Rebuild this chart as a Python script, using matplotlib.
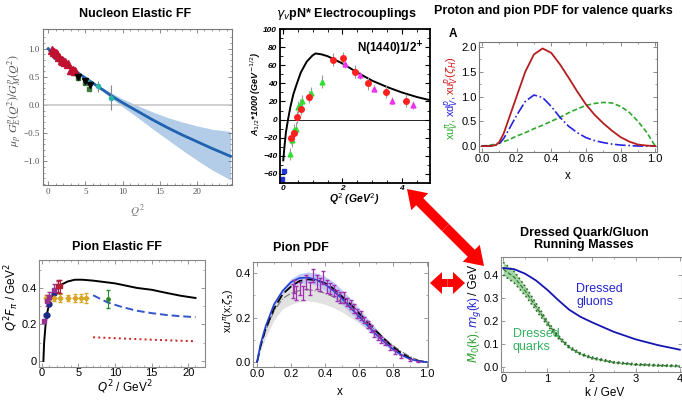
import numpy as np
import matplotlib.pyplot as plt
from matplotlib.patches import FancyArrow

plt.rcParams['font.family'] = ['Liberation Sans', 'DejaVu Sans']
plt.rcParams['font.size'] = 8

# ---- data ----

# nucleon elastic FF ratio
nuc_q2 = [0, 1, 2, 3, 4, 5, 6, 7, 8, 9, 10, 12, 14, 16, 18, 20, 22, 24.5]
nuc_ratio = [1.0, 0.88, 0.77, 0.67, 0.57, 0.48, 0.39, 0.30, 0.21, 0.12, 0.04,
             -0.11, -0.26, -0.40, -0.53, -0.65, -0.77, -0.91]
nuc_loop_q2 = [0, 0.4, 0.8, 1.2, 1.6, 2.0, 2.4]
nuc_loop = [1.0, 0.9, 0.83, 0.79, 0.76, 0.74, 0.73]
nuc_band_q2 = [0, 2, 4, 6, 8, 10, 12, 14, 16, 18, 20, 22, 24.5]
nuc_band_hi = [1.0, 0.78, 0.58, 0.41, 0.25, 0.11, -0.01, -0.12, -0.22, -0.30, -0.37, -0.43, -0.47]
nuc_band_lo = [1.0, 0.76, 0.56, 0.37, 0.17, -0.03, -0.22, -0.42, -0.61, -0.80, -0.98, -1.15, -1.33]
nuc_red_q2 = [0.5, 0.8, 1.0, 1.2, 1.5, 1.8, 2.0, 2.3, 2.6, 3.0, 3.3, 3.6]
nuc_red = [0.97, 0.95, 0.92, 0.90, 0.85, 0.80, 0.78, 0.76, 0.72, 0.63, 0.62, 0.60]
nuc_grn_q2 = [3.5, 4.0, 5.0, 5.5]
nuc_grn = [0.56, 0.48, 0.40, 0.28]
nuc_blk_q2 = [4.0, 5.0, 5.6]
nuc_blk = [0.50, 0.43, 0.35]
nuc_cyan_q2 = [5.2, 6.7, 8.5]
nuc_cyan = [0.42, 0.33, 0.13]
nuc_cyan_err = [0.05, 0.10, 0.22]

# Roper electrocouplings
rop_q2 = [0.01, 0.05, 0.1, 0.17, 0.25, 0.35, 0.45, 0.6, 0.8, 1.0, 1.1, 1.3, 1.5,
          1.75, 2.0, 2.5, 3.0, 3.5, 4.0, 4.5, 5.0]
rop_a12 = [-45, -30, -14, 0, 14, 28, 38, 52, 64, 71, 73, 72, 70, 66, 62, 52, 43,
           36, 30, 25, 21]
rop_red_q2 = [0.28, 0.37, 0.48, 0.62, 0.87, 1.69, 2.03, 2.42, 2.87, 3.46, 4.14]
rop_red = [-20, -15, 3, 12, 25, 66, 68, 53, 40, 31, 21]
rop_grn_q2 = [0.25, 0.32, 0.37, 0.43, 0.51, 0.56, 0.64, 0.94, 1.3]
rop_grn = [-38, -23, -12, -10, 14, 16, 20, 29, 42]
rop_mag_q2 = [2.08, 2.59, 3.06, 3.66, 4.37]
rop_mag = [61, 49, 34, 21, 16]
rop_blu_q2 = [0.03, -0.03]
rop_blu = [-57, -66]

# proton / pion valence PDFs
pdf_x = [0, 0.05, 0.08, 0.1, 0.125, 0.15, 0.175, 0.2, 0.25, 0.3, 0.35, 0.4, 0.45,
         0.5, 0.55, 0.6, 0.65, 0.7, 0.75, 0.8, 0.85, 0.9, 0.95, 1.0]
pdf_uv_p = [0, 0.0, 0.02, 0.08, 0.25, 0.5, 0.75, 1.0, 1.5, 1.85, 1.97, 1.88, 1.65,
            1.38, 1.1, 0.84, 0.63, 0.46, 0.31, 0.18, 0.09, 0.03, 0.01, 0]
pdf_dv_p = [0, 0.0, 0.02, 0.05, 0.15, 0.3, 0.46, 0.62, 0.9, 1.03, 0.98, 0.8, 0.58,
            0.4, 0.27, 0.17, 0.11, 0.07, 0.04, 0.02, 0.01, 0.0, 0.0, 0]
pdf_uv_pi = [0, 0.02, 0.04, 0.06, 0.09, 0.12, 0.16, 0.2, 0.27, 0.35, 0.42, 0.5,
             0.58, 0.67, 0.75, 0.82, 0.86, 0.88, 0.87, 0.8, 0.68, 0.5, 0.28, 0.0]

# pion elastic FF
pff_q2 = [0.2, 0.3, 0.5, 0.8, 1.2, 1.7, 2.5, 3.5, 4.5, 5.5, 7, 10, 13, 15, 17, 19, 21]
pff = [0.0, 0.1, 0.2, 0.28, 0.34, 0.38, 0.415, 0.435, 0.445, 0.445, 0.44, 0.425,
       0.40, 0.39, 0.373, 0.357, 0.345]
pff_dash_q2 = [7, 9, 11, 13, 15, 17, 19, 21]
pff_dash = [0.36, 0.32, 0.295, 0.275, 0.262, 0.252, 0.245, 0.24]
pff_dot_q2 = [7, 10, 14, 18, 21]
pff_dot = [0.13, 0.125, 0.118, 0.112, 0.108]
pff_gold_q2 = [0.6, 1.0, 1.6, 2.45, 3.5, 4.5, 5.3, 6.0]
pff_gold = [0.345, 0.345, 0.345, 0.345, 0.345, 0.345, 0.345, 0.345]
pff_gold_err = [0.015, 0.015, 0.015, 0.02, 0.015, 0.02, 0.02, 0.025]
pff_purp_q2 = [0.35, 0.7, 1.0, 1.6, 2.2]
pff_purp = [0.22, 0.33, 0.35, 0.39, 0.41]
pff_purp_err = [0.01, 0.03, 0.03, 0.03, 0.03]
pff_navy_q2 = [0.6, 0.75, 1.0, 1.6]
pff_navy = [0.25, 0.25, 0.31, 0.37]
pff_dred_q2 = [2.25, 2.45]
pff_dred = [0.41, 0.41]
pff_grn_q2 = [9.0]
pff_grn = [0.34]

# pion PDF
ppdf_x = [0, 0.02, 0.05, 0.1, 0.15, 0.2, 0.25, 0.3, 0.35, 0.4, 0.45, 0.5, 0.55,
          0.6, 0.65, 0.7, 0.75, 0.8, 0.85, 0.9, 0.95, 1.0]
ppdf_blue = [0, 0.08, 0.16, 0.26, 0.32, 0.36, 0.378, 0.38, 0.37, 0.35, 0.32, 0.285,
             0.245, 0.205, 0.165, 0.125, 0.09, 0.058, 0.032, 0.014, 0.004, 0]
ppdf_dash = [0, 0.07, 0.15, 0.24, 0.305, 0.34, 0.365, 0.372, 0.368, 0.355, 0.33,
             0.295, 0.26, 0.22, 0.18, 0.14, 0.102, 0.068, 0.04, 0.018, 0.005, 0]
ppdf_gray = [0, 0.07, 0.14, 0.23, 0.285, 0.31, 0.322, 0.325, 0.32, 0.31, 0.293,
             0.27, 0.242, 0.21, 0.175, 0.14, 0.106, 0.075, 0.047, 0.025, 0.008, 0]
ppdf_gray_lo = [0, 0.05, 0.11, 0.19, 0.24, 0.26, 0.272, 0.275, 0.27, 0.26, 0.245,
                0.225, 0.2, 0.175, 0.148, 0.12, 0.092, 0.065, 0.042, 0.022, 0.007, 0]
ppdf_gray_hi = [0, 0.08, 0.16, 0.255, 0.315, 0.345, 0.36, 0.362, 0.357, 0.345, 0.322,
                0.29, 0.255, 0.215, 0.175, 0.135, 0.098, 0.065, 0.038, 0.017, 0.005, 0]
ppdf_blue_hi = [0, 0.08, 0.16, 0.262, 0.33, 0.375, 0.398, 0.405, 0.4, 0.385, 0.36,
                0.325, 0.285, 0.242, 0.197, 0.152, 0.11, 0.072, 0.04, 0.018, 0.005, 0]
ppdf_blue_lo = [0, 0.08, 0.155, 0.25, 0.305, 0.34, 0.355, 0.355, 0.345, 0.322, 0.292,
                0.258, 0.22, 0.182, 0.145, 0.108, 0.076, 0.048, 0.026, 0.011, 0.003, 0]
e615_x = [0.21, 0.22, 0.23, 0.25, 0.27, 0.29, 0.31, 0.33, 0.35, 0.37, 0.39, 0.41,
          0.43, 0.45, 0.47, 0.49, 0.51, 0.53, 0.55, 0.57, 0.59, 0.61, 0.63, 0.65,
          0.67, 0.69, 0.71, 0.73, 0.75, 0.78, 0.81, 0.85, 0.9, 0.95]
e615 = [0.32, 0.34, 0.31, 0.33, 0.31, 0.36, 0.33, 0.39, 0.36, 0.35, 0.38, 0.34,
        0.33, 0.32, 0.30, 0.29, 0.29, 0.27, 0.26, 0.24, 0.22, 0.21, 0.19, 0.17,
        0.15, 0.13, 0.11, 0.10, 0.085, 0.065, 0.045, 0.025, 0.01, 0.003]
e615_err = [0.03, 0.03, 0.03, 0.03, 0.03, 0.03, 0.03, 0.03, 0.03, 0.03, 0.03, 0.03,
            0.025, 0.025, 0.025, 0.025, 0.025, 0.02, 0.02, 0.02, 0.02, 0.02, 0.015,
            0.015, 0.015, 0.015, 0.012, 0.012, 0.01, 0.01, 0.008, 0.006, 0.004, 0.003]

# running masses
run_k = [0, 0.25, 0.5, 0.75, 1.0, 1.25, 1.5, 1.75, 2.0, 2.5, 3.0, 3.5, 4.0]
gluon_m = [0.43, 0.425, 0.405, 0.375, 0.335, 0.29, 0.248, 0.218, 0.195, 0.153,
           0.12, 0.095, 0.075]
quark_m = [0.425, 0.39, 0.33, 0.26, 0.19, 0.13, 0.085, 0.057, 0.04, 0.02, 0.011,
           0.007, 0.004]
quark_hi = [0.455, 0.415, 0.35, 0.275, 0.2, 0.137, 0.09, 0.061, 0.044, 0.023,
            0.014, 0.01, 0.007]
quark_lo = [0.4, 0.365, 0.31, 0.245, 0.18, 0.123, 0.08, 0.053, 0.036, 0.017,
            0.008, 0.004, 0.001]

W, H = 682, 401
fig = plt.figure(figsize=(W / 100, H / 100), dpi=100)


def box(l, t, r, b):
    # pixel box -> figure fraction rect
    return [l / W, 1 - b / H, (r - l) / W, (b - t) / H]


def ftext(px, py, s, **kw):
    return fig.text(px / W, 1 - py / H, s, **kw)


def stacked_label(px, py_mid, parts, size):
    # rotated label made of differently coloured pieces, listed bottom to top
    r = fig.canvas.get_renderer()
    texts = [ftext(px, 0, s, color=c, rotation=90, ha='center', va='bottom',
                   fontsize=size) for s, c in parts]
    hs = [t.get_window_extent(r).height for t in texts]
    y = py_mid + sum(hs) / 2
    for t, h in zip(texts, hs):
        t.set_position((px / W, 1 - y / H))
        y -= h


def frame(ax, col='#888888'):
    for s in ax.spines.values():
        s.set_color(col)
        s.set_linewidth(0.8)
    ax.tick_params(direction='in', top=True, right=True, length=3, width=0.6,
                   color=col, labelsize=8, pad=1.5)
    ax.tick_params(which='minor', direction='in', top=True, right=True,
                   length=1.5, width=0.5, color=col)


# ---- panel 1: nucleon elastic FF ----
ax1 = fig.add_axes(box(43, 29, 232, 185))
frame(ax1, '#777777')
ax1.fill_between(nuc_band_q2, nuc_band_lo, nuc_band_hi, color='#b3cde8', lw=0)
ax1.axhline(0, color='#c8c8c8', lw=1.2)
ax1.plot(nuc_q2, nuc_ratio, color='#1f62b0', lw=2)
ax1.plot(nuc_loop_q2, nuc_loop, color='#1f62b0', lw=1.5)
ax1.errorbar(nuc_cyan_q2, nuc_cyan, yerr=nuc_cyan_err, fmt='o', ms=3,
             color='#2bb5a8', ecolor='#888888', elinewidth=0.8)
ax1.plot(nuc_grn_q2, nuc_grn, 's', ms=3.5, color='#3e7a3a')
ax1.errorbar(nuc_blk_q2, nuc_blk, yerr=0.05, fmt='v', ms=4.5, color='black',
             ecolor='#666666', elinewidth=0.7)
ax1.plot(nuc_red_q2, nuc_red, '^', ms=5.5, color='#c01030')
ax1.set_xlim(-0.7, 24.7)
ax1.set_ylim(-1.42, 1.35)
ax1.set_xticks([0, 5, 10, 15, 20])
ax1.set_yticks([1.0, 0.5, 0.0, -0.5, -1.0])
ax1.set_xticks(np.arange(0, 25, 1), minor=True)
ax1.set_yticks(np.arange(-1.4, 1.3, 0.1), minor=True)
ax1.set_yticklabels(['1.0', '0.5', '0.0', '\u22120.5', '\u22121.0'])
ax1.tick_params(labelsize=6.5, labelcolor='#555555', pad=2.5)
for lab in ax1.get_xticklabels() + ax1.get_yticklabels():
    lab.set_family('Liberation Serif')
ftext(135, 14, 'Nucleon Elastic FF', ha='center', va='center',
      fontsize=9, fontweight='bold')
ftext(137, 211, r'$Q^2$', ha='center', va='center', fontsize=8,
      color='#777777', math_fontfamily='stix')
ftext(15, 100, r'$\mu_p\ G_E^p(Q^2)/G_M^p(Q^2)$', ha='center', va='center',
      rotation=90, fontsize=8.5, color='#555555', math_fontfamily='stix')

# ---- panel 2: Roper electrocouplings ----
ax2 = fig.add_axes(box(280, 29, 430, 183))
for s in ax2.spines.values():
    s.set_linewidth(1.3)
ax2.tick_params(direction='in', top=True, right=True, length=3.5, width=0.8,
                labelsize=6, pad=2)
ax2.tick_params(which='minor', direction='in', top=True, right=True, length=2)
ax2.tick_params(axis='x', pad=1.5)
ax2.axhline(0, color='black', lw=0.6)
ax2.plot(rop_q2, rop_a12, color='black', lw=1.4)
ax2.errorbar(rop_grn_q2, rop_grn, yerr=7, fmt='^', ms=3.5, color='#33dd33',
             ecolor='#999999', elinewidth=0.8)
ax2.errorbar(rop_red_q2, rop_red, yerr=7, fmt='o', ms=4, color='#ff2020',
             ecolor='#999999', elinewidth=0.8)
ax2.errorbar(rop_mag_q2, rop_mag, yerr=4, fmt='^', ms=3.5, color='#ee33ee',
             ecolor='#999999', elinewidth=0.8)
ax2.plot(rop_blu_q2, rop_blu, 's', ms=3, color='#2233dd')
ax2.set_xlim(-0.1, 4.95)
ax2.set_ylim(-70, 100)
ax2.set_xticks([0, 2, 4])
ax2.set_yticks(np.arange(-60, 101, 20))
ax2.set_xticks(np.arange(0, 5, 0.5), minor=True)
ax2.set_yticks(np.arange(-70, 101, 10), minor=True)
for lab in ax2.get_xticklabels() + ax2.get_yticklabels():
    lab.set_fontweight('bold')
    lab.set_fontstyle('italic')
ax2.text(0.96, 0.87, r'N(1440)1/2$^{\mathbf{+}}$', transform=ax2.transAxes,
         ha='right', va='center', fontsize=8.5, fontweight='bold')
ftext(346, 14, r'$\gamma_v$pN* Electrocouplings', ha='center', va='center',
      fontsize=9, fontweight='bold')
ftext(354, 199, r'Q$^2$ (GeV$^2$)', ha='center', va='center', fontsize=7.5,
      fontweight='bold', fontstyle='italic')
ftext(256, 94, r'A$_{1/2}$*1000 (GeV$^{-1/2}$)', ha='center', va='center',
      rotation=90, fontsize=6.5, fontweight='bold', fontstyle='italic')

# ---- panel 3: proton and pion valence PDFs ----
ax3 = fig.add_axes(box(479, 42, 657, 152))
frame(ax3, '#777777')
ax3.plot(pdf_x, pdf_uv_pi, '--', color='#2ca82c', lw=1.2, dashes=(3, 1.5))
ax3.plot(pdf_x, pdf_dv_p, '-.', color='#2424e0', lw=1.2)
ax3.plot(pdf_x, pdf_uv_p, '-', color='#b41e1e', lw=1.3)
ax3.set_xlim(-0.017, 1.01)
ax3.set_ylim(-0.12, 2.1)
ax3.set_xticks([0, 0.2, 0.4, 0.6, 0.8, 1.0])
ax3.set_yticks([0, 0.5, 1.0, 1.5, 2.0])
ax3.set_xticks(np.arange(0, 1.01, 0.1), minor=True)
ax3.set_yticks(np.arange(0, 2.1, 0.25), minor=True)
ax3.xaxis.set_major_formatter('{x:.1f}')
ax3.yaxis.set_major_formatter('{x:.1f}')
ftext(553, 11, 'Proton and pion PDF for valence quarks', ha='center',
      va='center', fontsize=9, fontweight='bold')
ftext(453, 34, 'A', ha='center', va='center', fontsize=8.5, fontweight='bold')
ftext(568, 176, 'x', ha='center', va='center', fontsize=8.5)
stacked_label(452, 98, [(r'xu$_V^\pi$, ', '#2ca82c'),
                        (r'xd$_V^p$, ', '#2424e0'),
                        (r'xu$_V^p$($\zeta_H$)', '#d01818')], 8)

# ---- panel 4: pion elastic FF ----
ax4 = fig.add_axes(box(39, 260, 205, 367))
frame(ax4, '#888888')
ax4.tick_params(axis='x', pad=1)
ax4.plot(pff_q2, pff, color='black', lw=1.4)
ax4.plot(pff_dash_q2, pff_dash, '--', color='#3355cc', lw=1.4, dashes=(4, 2))
ax4.plot(pff_dot_q2, pff_dot, ':', color='#cc2222', lw=1.4)
ax4.errorbar(pff_gold_q2, pff_gold, yerr=pff_gold_err, fmt='D', ms=2.5,
             color='#d9a520', capsize=1.5, elinewidth=0.8)
ax4.errorbar(pff_purp_q2, pff_purp, yerr=pff_purp_err, fmt='s', ms=2.5,
             color='#9b3094', capsize=1.5, elinewidth=0.8)
ax4.plot(pff_navy_q2, pff_navy, 'o', ms=3.5, color='#1a2a8a')
ax4.errorbar(pff_dred_q2, pff_dred, yerr=0.035, fmt='s', ms=2.5,
             color='#b02030', capsize=1.5, elinewidth=0.8)
ax4.errorbar(pff_grn_q2, pff_grn, yerr=0.05, fmt='o', ms=2.5,
             color='#2a8a2a', capsize=1.5, elinewidth=0.8)
ax4.set_xlim(-0.4, 22.3)
ax4.set_ylim(-0.033, 0.553)
ax4.set_xticks([0, 5, 10, 15, 20])
ax4.set_yticks([0, 0.2, 0.4])
ax4.set_yticklabels(['0', '0.2', '0.4'])
ax4.set_xticks(np.arange(0, 22, 1), minor=True)
ax4.set_yticks(np.arange(0, 0.55, 0.1), minor=True)
ftext(117, 247, 'Pion Elastic FF', ha='center', va='center', fontsize=9,
      fontweight='bold')
ftext(125, 387, r'$Q^2$ / GeV$^2$', ha='center', va='center', fontsize=8.5)
ftext(12, 297, r'$Q^2F_\pi$ / GeV$^2$', ha='center', va='center',
      rotation=90, fontsize=8.5)

# ---- panel 5: pion PDF ----
ax5 = fig.add_axes(box(253, 262, 428, 367))
frame(ax5, '#888888')
ax5.fill_between(ppdf_x, ppdf_gray_lo, ppdf_gray_hi, color='#e2e2e2', lw=0)
ax5.fill_between(ppdf_x, ppdf_blue_lo, ppdf_blue_hi, color='#b8bff2', lw=0,
                 alpha=0.85)
ax5.plot(ppdf_x, ppdf_gray, '-.', color='#777777', lw=0.8)
ax5.plot(ppdf_x, ppdf_dash, '--', color='black', lw=1.3, dashes=(5, 2))
ax5.plot(ppdf_x, ppdf_blue, '-', color='#1f3fd0', lw=1.2)
ax5.errorbar(e615_x, e615, yerr=e615_err, fmt='none', ecolor='#a030b0',
             capsize=1.2, elinewidth=0.9)
ax5.set_xlim(-0.024, 1.006)
ax5.set_ylim(-0.022, 0.45)
ax5.set_xticks([0, 0.2, 0.4, 0.6, 0.8, 1.0])
ax5.set_yticks([0, 0.2, 0.4])
ax5.set_xticks(np.arange(0, 1.01, 0.1), minor=True)
ax5.set_yticks(np.arange(0, 0.45, 0.1), minor=True)
ax5.xaxis.set_major_formatter('{x:.1f}')
ax5.yaxis.set_major_formatter('{x:.1f}')
ftext(301, 248, 'Pion PDF', ha='center', va='center', fontsize=9,
      fontweight='bold')
ftext(340, 392, 'x', ha='center', va='center', fontsize=8.5)
ftext(229, 311, r'x$u^\pi$(x;$\zeta_5$)', ha='center', va='center',
      rotation=90, fontsize=7.5)

# ---- panel 6: running masses ----
ax6 = fig.add_axes(box(501, 257, 682, 372))
frame(ax6, '#888888')
ax6.fill_between(run_k, quark_lo, quark_hi, color='#a3d6a3', lw=0)
ax6.plot(run_k, quark_lo, ':', color='#2d6e2d', lw=1.2)
ax6.plot(run_k, quark_hi, ':', color='#2d6e2d', lw=1.2)
ax6.plot(run_k, quark_m, '--', color='#2d6e2d', lw=0.8)
ax6.plot(run_k, gluon_m, '-', color='#1515b0', lw=1.3)
ax6.set_xlim(-0.05, 4.05)
ax6.set_ylim(-0.022, 0.478)
ax6.set_xticks([0, 1, 2, 3, 4])
ax6.set_yticks([0, 0.1, 0.2, 0.3, 0.4])
ax6.set_xticks(np.arange(0, 4.01, 0.5), minor=True)
ax6.yaxis.set_major_formatter('{x:.1f}')
ax6.text(1.66, 0.31, 'Dressed\ngluons', color='#2525d0', fontsize=9,
         linespacing=1.1, va='center')
ax6.text(0.22, 0.115, 'Dressed\nquarks', color='#33b060', fontsize=9,
         linespacing=1.1, va='center')
ftext(584, 239, 'Dressed Quark/Gluon\nRunning Masses', ha='center',
      va='center', fontsize=9, fontweight='bold', linespacing=1.1)
ftext(605, 393, 'k / GeV', ha='center', va='center', fontsize=8.5)
stacked_label(474, 314, [(r'$M_0$(k), ', '#2ca02c'),
                         (r'$m_g$(k) ', '#2525d0'),
                         ('/ GeV', 'black')], 8.5)

# ---- red double arrows on an overlay in pixel units ----
ov = fig.add_axes([0, 0, 1, 1])
ov.set_xlim(0, W)
ov.set_ylim(H, 0)
ov.axis('off')
ov.patch.set_alpha(0)


def double_arrow(x0, y0, x1, y1, w, hw, hl):
    mx, my = (x0 + x1) / 2, (y0 + y1) / 2
    for tx, ty in [(x0, y0), (x1, y1)]:
        ov.add_patch(FancyArrow(mx, my, tx - mx, ty - my, width=w,
                                head_width=hw, head_length=hl,
                                length_includes_head=True, color='#ff0000',
                                lw=0))


double_arrow(407, 189, 484, 266, 10, 24, 18)
double_arrow(430, 283, 465, 283, 8, 22, 12)

plt.savefig('out.png', dpi=100)
